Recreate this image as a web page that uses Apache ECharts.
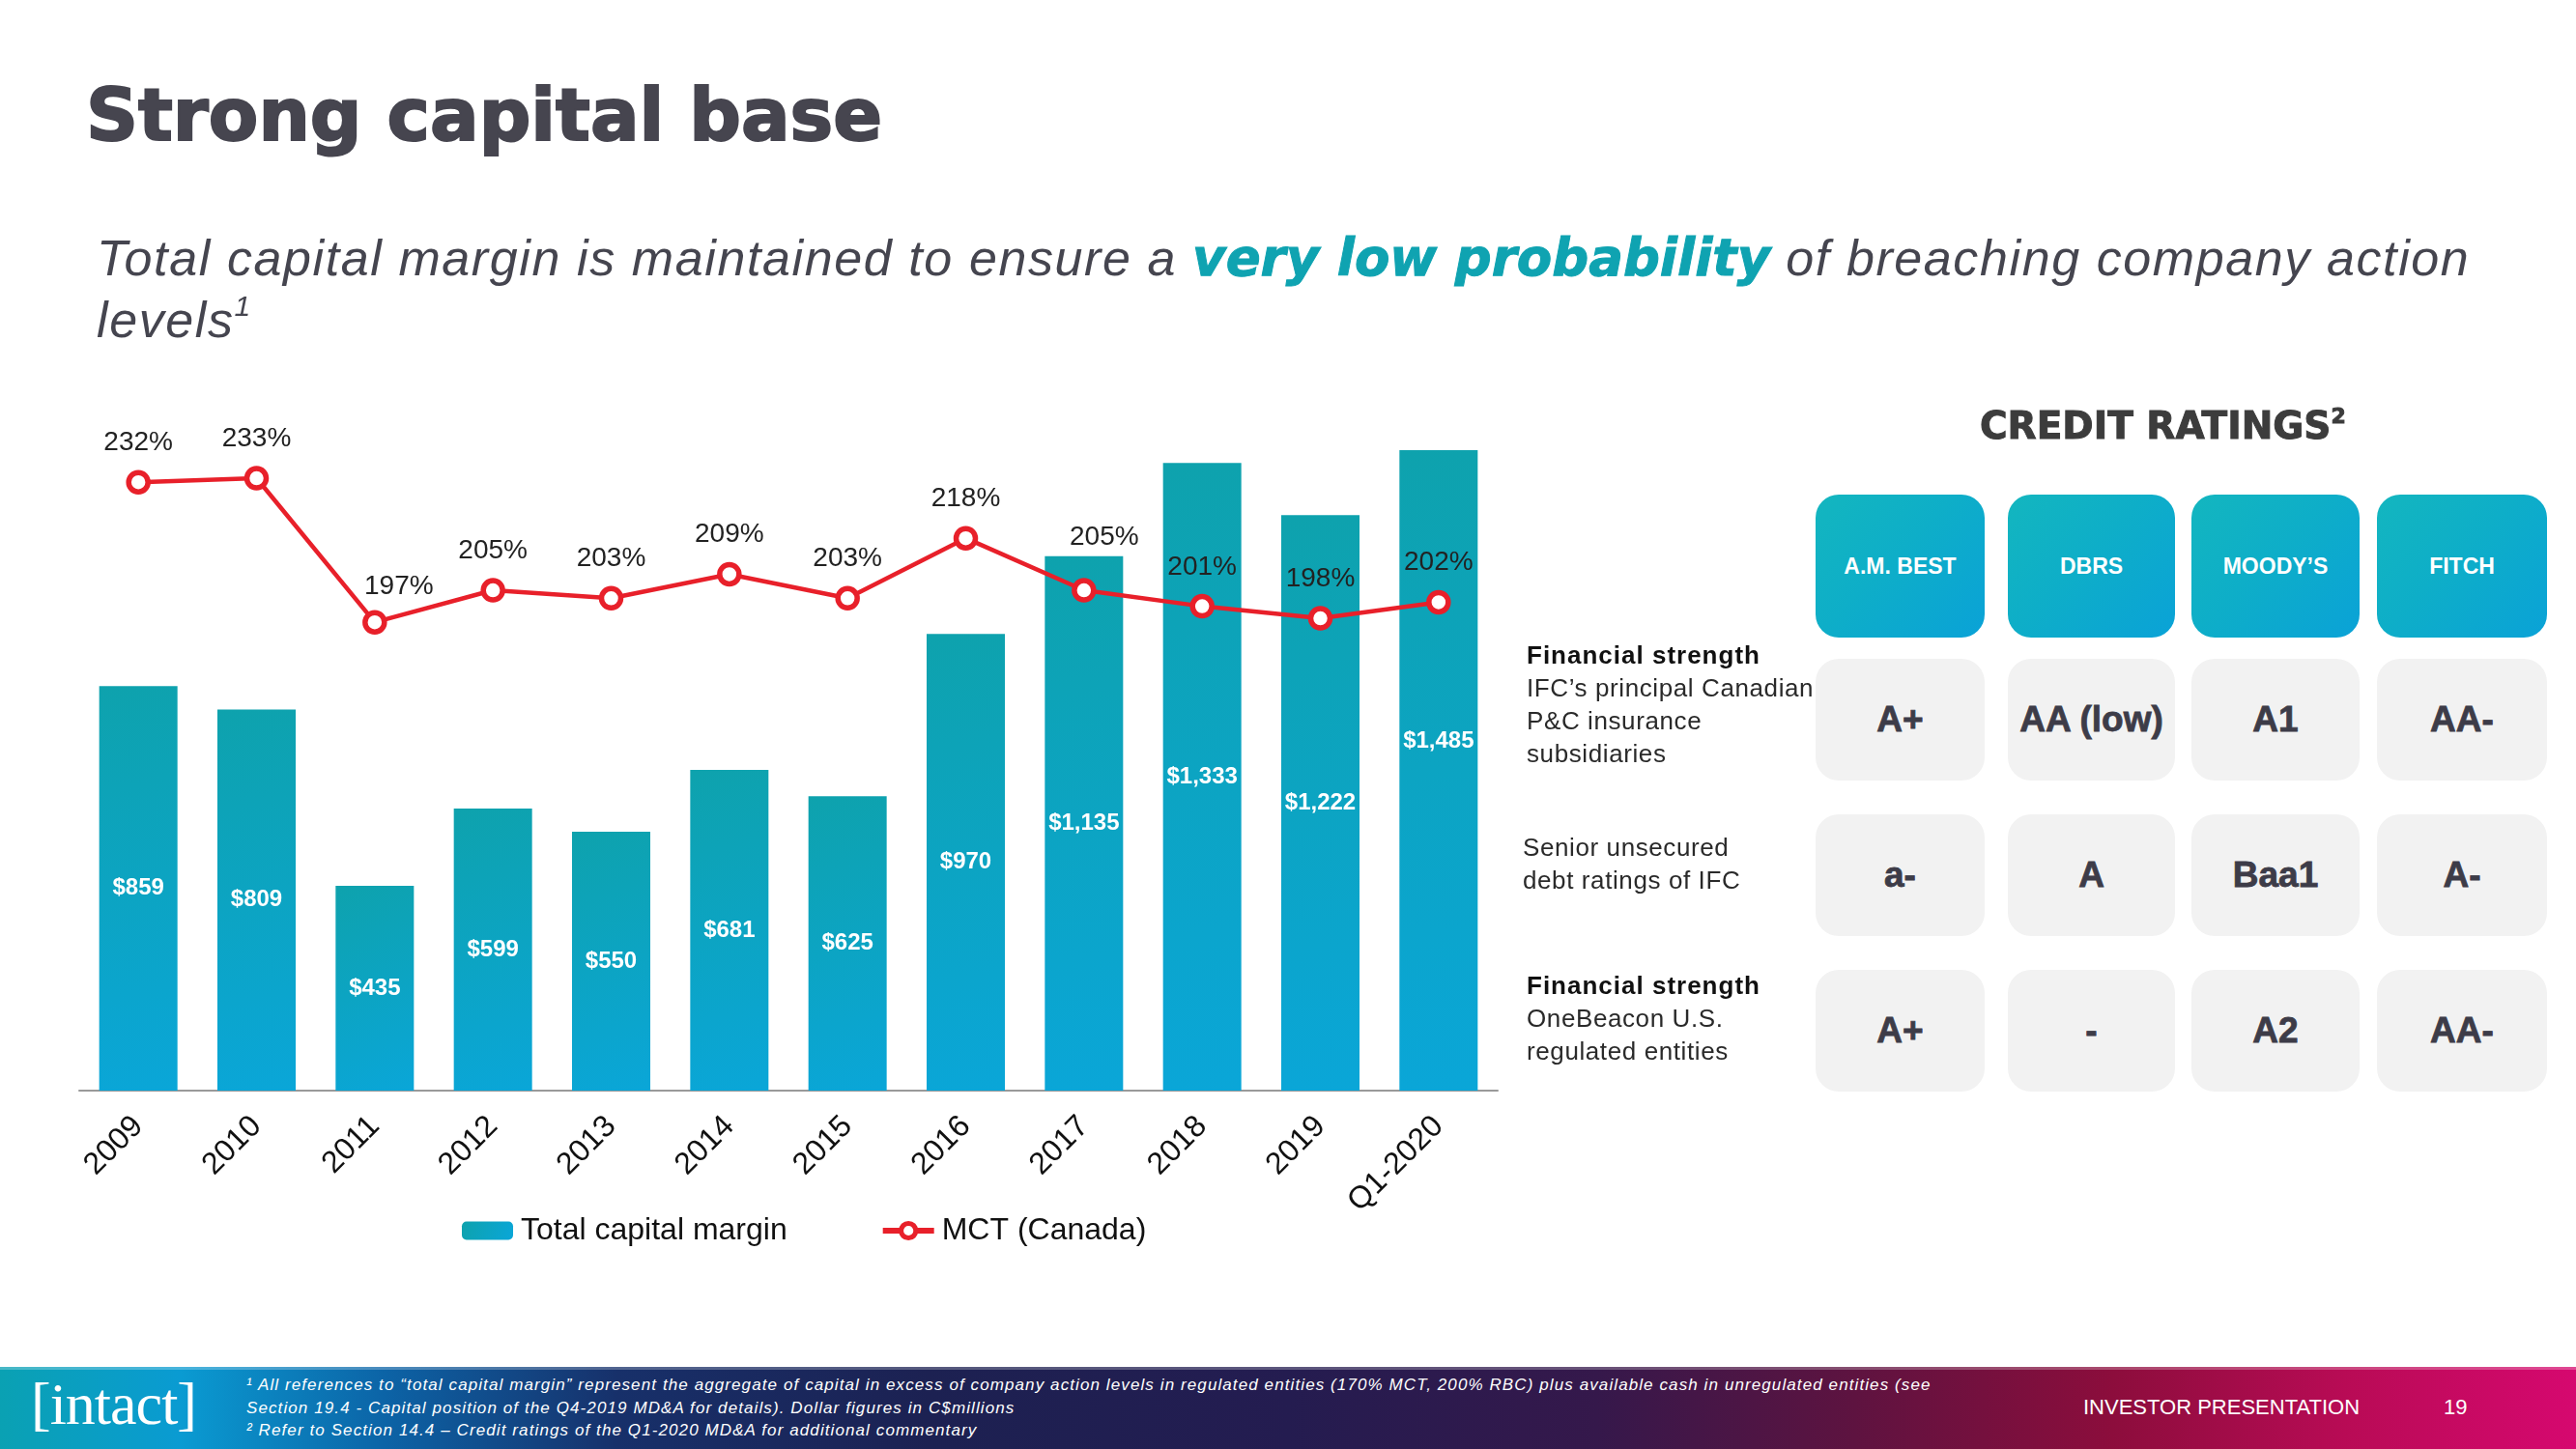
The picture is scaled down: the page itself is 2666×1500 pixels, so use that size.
<!DOCTYPE html>
<html>
<head>
<meta charset="utf-8">
<script src="https://cdn.jsdelivr.net/npm/echarts/dist/echarts.min.js"></script>
<style>
html,body{margin:0;padding:0;background:#fff;}
#page{position:relative;width:2666px;height:1500px;overflow:hidden;font-family:"Liberation Sans",Arial,sans-serif;}
#chart{position:absolute;left:0;top:0;width:2666px;height:1500px;z-index:1;}
.abs{position:absolute;white-space:nowrap;z-index:2;}
#title{left:89px;top:82px;font-family:"DejaVu Sans",sans-serif;font-weight:bold;font-size:75px;line-height:75px;color:#46454f;-webkit-text-stroke:2px #46454f;}
#subtitle{left:100px;top:235px;font-size:52px;line-height:64px;font-style:italic;color:#45454f;letter-spacing:1.6px;}
#subtitle .hl{font-family:"DejaVu Sans",sans-serif;font-weight:bold;font-style:oblique;font-size:53px;letter-spacing:0;color:#0fa3b1;-webkit-text-stroke:1px #0fa3b1;}
#subtitle sup{font-size:30px;vertical-align:22px;line-height:0;}
#crhead{left:2049px;top:421px;font-family:"DejaVu Sans",sans-serif;font-weight:bold;font-size:39px;line-height:39px;color:#3c3c3c;-webkit-text-stroke:1px #3c3c3c;}
#crhead sup{font-size:22px;vertical-align:16px;line-height:0;}
.box{position:absolute;z-index:2;display:flex;align-items:center;justify-content:center;border-radius:24px;}
.hbox{background:linear-gradient(135deg,#13b6bf 0%,#0eaec8 45%,#0aa2d7 100%);color:#fff;font-weight:bold;font-size:23px;}
.rbox{background:#f2f2f2;color:#3d3c48;font-weight:bold;font-size:37px;-webkit-text-stroke:0.8px #3d3c48;}
.rowlab{font-size:26px;line-height:34px;color:#2a2a2a;letter-spacing:0.6px;}
.rowlab b{color:#111;letter-spacing:1px;}
#footer{position:absolute;left:0;top:1415px;width:2666px;height:85px;z-index:2;
 background:linear-gradient(90deg,#0aa1b3 0%,#0a9bd2 7%,#0c63a6 15%,#17306a 24%,#1c2152 36%,#241c50 50%,#35184b 62%,#5e1340 72%,#8c0d3c 82%,#b80b55 91%,#d6086f 100%);}
#footer:before{content:"";position:absolute;left:0;top:0;width:100%;height:3px;background:rgba(255,255,255,0.25);}
#logo{left:32px;top:1418px;font-family:"Liberation Serif",serif;font-size:62px;line-height:70px;color:#fff;letter-spacing:-1px;}
.fn{left:255px;font-size:17px;line-height:20px;font-style:italic;letter-spacing:1.1px;color:#fff;}
#invp{left:2156px;top:1446px;font-size:22px;line-height:22px;color:#fff;}
#pnum{left:2529px;top:1446px;font-size:22px;line-height:22px;color:#fff;}
</style>
</head>
<body>
<div id="page">
  <div id="chart"></div>
  <div id="title" class="abs">Strong capital base</div>
  <div id="subtitle" class="abs">Total capital margin is maintained to ensure a <span class="hl">very low probability</span> of breaching company action<br>levels<sup>1</sup></div>
  <div id="crhead" class="abs">CREDIT RATINGS<sup>2</sup></div>
  <div id="ratings"></div>
  <div id="footer"></div>
  <div id="logo" class="abs">[intact]</div>
  <div class="abs fn" style="top:1424px;">¹ All references to “total capital margin” represent the aggregate of capital in excess of company action levels in regulated entities (170% MCT, 200% RBC) plus available cash in unregulated entities (see</div>
  <div class="abs fn" style="top:1448px;">Section 19.4 - Capital position of the Q4-2019 MD&amp;A for details). Dollar figures in C$millions</div>
  <div class="abs fn" style="top:1471px;">² Refer to Section 14.4 – Credit ratings of the Q1-2020 MD&amp;A for additional commentary</div>
  <div id="invp" class="abs">INVESTOR PRESENTATION</div>
  <div id="pnum" class="abs">19</div>
</div>
<script>
// ---- chart data ----
const categories = ['2009','2010','2011','2012','2013','2014','2015','2016','2017','2018','2019','Q1-2020'];
const capitalMargin = [859, 809, 435, 599, 550, 681, 625, 970, 1135, 1333, 1222, 1485];
const mctCanada = [232, 233, 197, 205, 203, 209, 203, 218, 205, 201, 198, 202];
const seriesNames = ['Total capital margin', 'MCT (Canada)'];

// ---- credit ratings table (text) ----
const agencies = ['A.M. BEST', 'DBRS', 'MOODY\u2019S', 'FITCH'];
const ratingRowLabels = [
  ['<b>Financial strength</b>', 'IFC\u2019s principal Canadian', 'P&amp;C insurance', 'subsidiaries'],
  ['Senior unsecured', 'debt ratings of IFC'],
  ['<b>Financial strength</b>', 'OneBeacon U.S.', 'regulated entities']
];
const ratingValues = [
  ['A+', 'AA (low)', 'A1', 'AA-'],
  ['a-', 'A', 'Baa1', 'A-'],
  ['A+', '-', 'A2', 'AA-']
];

// layout of the ratings panel
const colLeft = [1879, 2078, 2268, 2460];
const colWidth = [175, 173, 174, 176];
const headTop = 512, headH = 148;
const rowTop = [682, 843, 1004], rowH = 126;
const labTop = [661, 860, 1003], labLeft = [1580, 1576, 1580];

const rt = document.getElementById('ratings');
let html = '';
agencies.forEach((a, i) => {
  html += `<div class="box hbox" style="left:${colLeft[i]}px;top:${headTop}px;width:${colWidth[i]}px;height:${headH}px;">${a}</div>`;
});
ratingValues.forEach((row, r) => {
  row.forEach((v, c) => {
    html += `<div class="box rbox" style="left:${colLeft[c]}px;top:${rowTop[r]}px;width:${colWidth[c]}px;height:${rowH}px;">${v}</div>`;
  });
  html += `<div class="abs rowlab" style="left:${labLeft[r]}px;top:${labTop[r]}px;">${ratingRowLabels[r].join('<br>')}</div>`;
});
rt.innerHTML = html;

// ---- chart ----
const chart = echarts.init(document.getElementById('chart'), null, {renderer: 'canvas'});
const labelOffsets = {2: [25, 4], 8: [21, -14]};
const barGradient = {type: 'linear', x: 0, y: 0, x2: 1, y2: 1,
  colorStops: [{offset: 0, color: '#0ea2ad'}, {offset: 1, color: '#0aa6d8'}]};

const option = {
  animation: false,
  textStyle: {fontFamily: 'Liberation Sans'},
  grid: {left: 82, right: 1116, top: 466, bottom: 371, containLabel: false},
  legend: {
    left: 473, top: 1253, itemWidth: 53, itemHeight: 19, itemGap: 96,
    textStyle: {fontSize: 32, color: '#111', padding: [0, 0, 0, 3]},
    data: [
      {name: seriesNames[0]},
      {name: seriesNames[1], lineStyle: {width: 6}, itemStyle: {borderWidth: 5}}
    ]
  },
  xAxis: {
    type: 'category', data: categories,
    axisLine: {lineStyle: {color: '#9a9a9a', width: 2}},
    axisTick: {show: false},
    axisLabel: {rotate: 45, fontSize: 32, color: '#111', margin: 32, interval: 0}
  },
  yAxis: [
    {type: 'value', min: 0, max: 1360, show: false, splitLine: {show: false}},
    {type: 'value', min: 80, max: 240, show: false, splitLine: {show: false}}
  ],
  series: [
    {
      name: seriesNames[0], type: 'bar', barWidth: 81,
      data: capitalMargin.map((v, i) => i === capitalMargin.length - 1 ? {value: v, label: {offset: [0, -30]}} : v),
      itemStyle: {color: barGradient},
      label: {show: true, position: 'inside', color: '#fff', fontSize: 24, fontWeight: 'bold',
        formatter: p => '$' + Number(p.value).toLocaleString('en-US')}
    },
    {
      name: seriesNames[1], type: 'line', yAxisIndex: 1, z: 5,
      data: mctCanada.map((v, i) => labelOffsets[i] ? {value: v, label: {offset: labelOffsets[i]}} : v),
      symbol: 'circle', symbolSize: 20,
      lineStyle: {color: '#e8202a', width: 4.5},
      itemStyle: {color: '#fff', borderColor: '#e8202a', borderWidth: 5.5},
      label: {show: true, position: 'top', distance: 14, fontSize: 28, color: '#222', formatter: '{c}%'}
    }
  ]
};
chart.setOption(option);
</script>
</body>
</html>
